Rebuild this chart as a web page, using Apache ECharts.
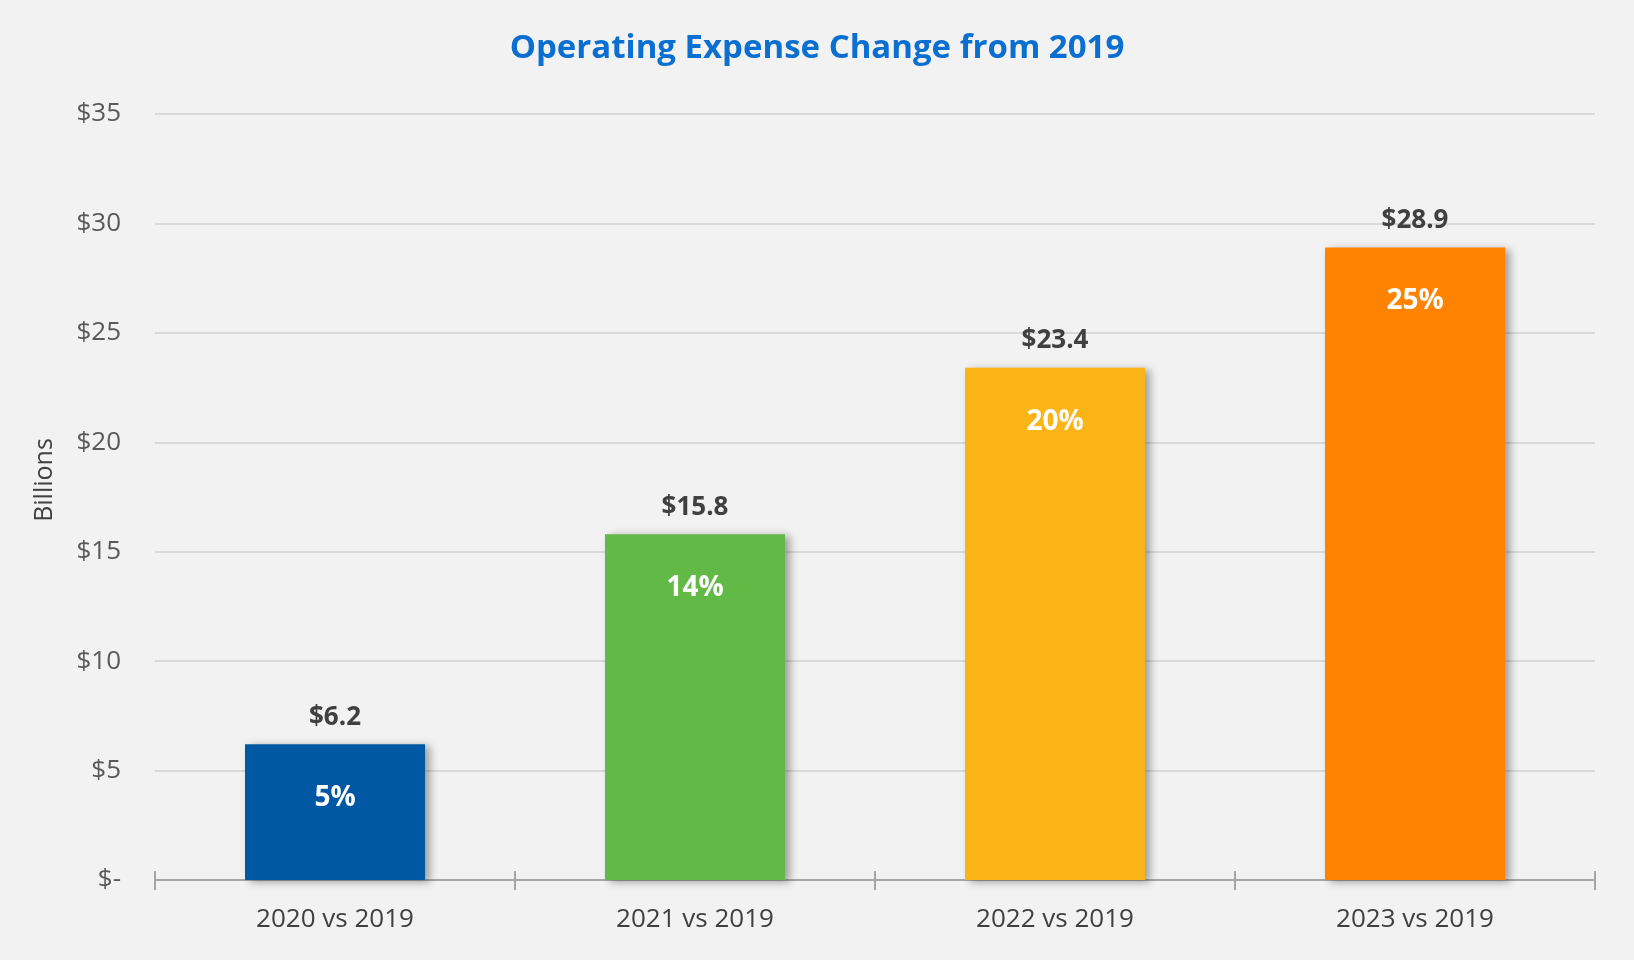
<!DOCTYPE html>
<html>
<head>
<meta charset="utf-8">
<script src="https://cdn.jsdelivr.net/npm/echarts@6/dist/echarts.min.js"></script>
<style>
  html, body { margin: 0; padding: 0; background: #f2f2f2; }
  #chart { width: 1634px; height: 960px; }
</style>
</head>
<body>
<div id="chart"></div>
<script>
// categories and values
const categories = ['2020 vs 2019', '2021 vs 2019', '2022 vs 2019', '2023 vs 2019']
const amounts = [6.2, 15.8, 23.4, 28.9]
const percents = ['5%', '14%', '20%', '25%']
const barColors = ['#0058a3', '#63b946', '#fbb416', '#ff8200']

const chart = echarts.init(document.getElementById('chart'))
const font = '"Open Sans", sans-serif'

chart.setOption({
  backgroundColor: '#f2f2f2',
  textStyle: { fontFamily: font },
  title: {
    text: 'Operating Expense Change from 2019',
    left: 'center',
    top: 27,
    textStyle: {
      color: '#0a6fd1',
      fontSize: 33,
      fontWeight: 'bold',
      fontFamily: font
    }
  },
  grid: {
    left: 155,
    right: 39,
    top: 114,
    bottom: 80
  },
  xAxis: [{
    type: 'category',
    data: categories,
    position: 'bottom',
    axisLine: { lineStyle: { color: '#a6a6a6', width: 2 } },
    axisTick: { show: true, length: 10, lineStyle: { color: '#a6a6a6', width: 2 } },
    axisLabel: { color: '#404040', fontSize: 26, margin: 27, fontFamily: font }
  }, {
    // second axis only to draw the upper half of the crossing ticks
    type: 'category',
    data: categories,
    position: 'bottom',
    axisLine: { show: false },
    axisTick: { show: true, inside: true, length: 9, lineStyle: { color: '#a6a6a6', width: 2 } },
    axisLabel: { show: false }
  }],
  yAxis: {
    type: 'value',
    min: 0,
    max: 35,
    interval: 5,
    name: 'Billions',
    nameLocation: 'middle',
    nameGap: 98,
    nameTextStyle: { color: '#404040', fontSize: 25, fontFamily: font, padding: [0, 0, 0, 34] },
    axisLine: { show: false },
    axisTick: { show: false },
    splitLine: { lineStyle: { color: '#d9d9d9', width: 2 } },
    axisLabel: {
      color: '#595959',
      fontSize: 26,
      margin: 34,
      fontFamily: font,
      formatter(v) {
        return v === 0 ? '$-' : '$' + v
      }
    }
  },
  series: [{
    type: 'bar',
    barWidth: '50%',
    data: amounts.map((v, i) => ({
      value: v,
      itemStyle: { color: barColors[i] }
    })),
    itemStyle: {
      shadowColor: 'rgba(0, 0, 0, 0.35)',
      shadowBlur: 8,
      shadowOffsetX: 5,
      shadowOffsetY: 2
    },
    label: {
      show: true,
      position: 'top',
      distance: 14,
      color: '#404040',
      fontSize: 26,
      fontWeight: 'bold',
      fontFamily: font,
      formatter(p) {
        return '$' + p.value.toFixed(1)
      }
    }
  }, {
    type: 'bar',
    barWidth: '50%',
    barGap: '-100%',
    silent: true,
    data: amounts,
    itemStyle: { color: 'rgba(0,0,0,0)' },
    label: {
      show: true,
      position: 'insideTop',
      distance: 40,
      color: '#ffffff',
      fontSize: 28,
      fontWeight: 'bold',
      fontFamily: font,
      formatter(p) {
        return percents[p.dataIndex]
      }
    }
  }]
})
</script>
</body>
</html>
